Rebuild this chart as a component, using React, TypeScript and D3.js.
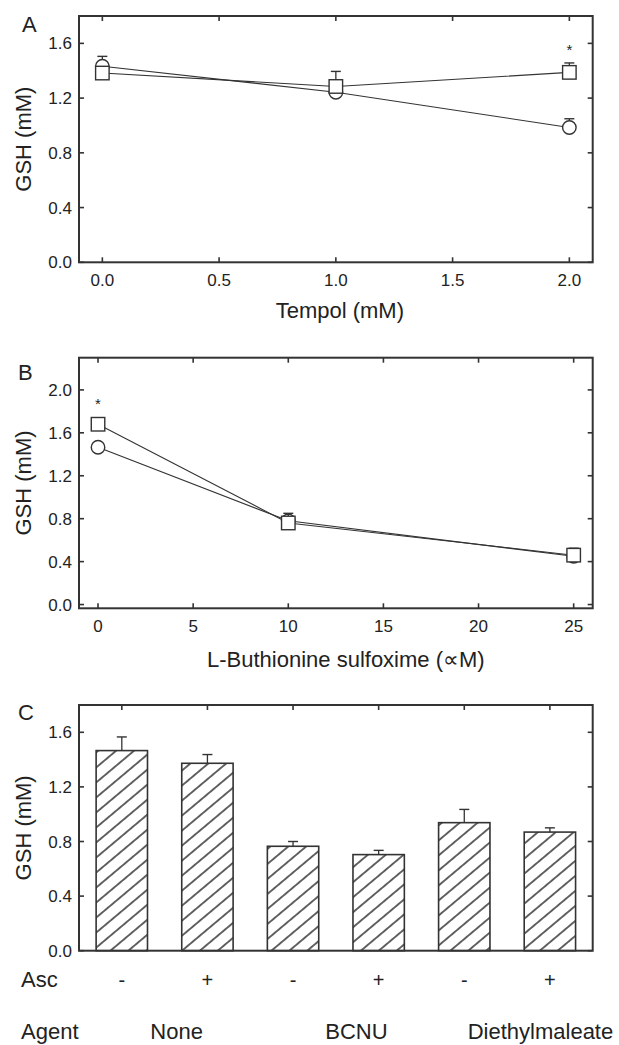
import React from "react";
import * as d3 from "d3";

// ---------- data ----------
const tempolDose = [0, 1, 2];
const tempolCircle = [1.433, 1.243, 0.985];
const tempolCircleErr = [0.072, 0.03, 0.064];
const tempolSquare = [1.383, 1.285, 1.388];
const tempolSquareErr = [0.03, 0.11, 0.069];
const tempolSig = [false, false, true];

const bsoDose = [0, 10, 25];
const bsoCircle = [1.465, 0.78, 0.45];
const bsoCircleErr = [0.02, 0.03, 0.03];
const bsoSquare = [1.68, 0.76, 0.46];
const bsoSquareErr = [0.02, 0.09, 0.065];
const bsoSig = [true, false, false];

const barValues = [1.466, 1.373, 0.765, 0.704, 0.938, 0.869];
const barErr = [0.1, 0.064, 0.035, 0.031, 0.097, 0.031];
const ascLabels = ["-", "+", "-", "+", "-", "+"];
const agentLabels = ["None", "BCNU", "Diethylmaleate"];
const agentAnchor = [1.64, 3.74, 5.89];

const yTicksA = [0, 0.4, 0.8, 1.2, 1.6];
const xTicksA = [0, 0.5, 1.0, 1.5, 2.0];
const yTicksB = [0, 0.4, 0.8, 1.2, 1.6, 2.0];
const xTicksB = [0, 5, 10, 15, 20, 25];
const yTicksC = [0, 0.4, 0.8, 1.2, 1.6];

// ---------- style ----------
const FONT = "'Liberation Sans', Arial, Helvetica, sans-serif";
const INK = "#222";
const LINE = "#333";
const TICK_FS = 17;
const TITLE_FS = 22;
const TICK_LEN = 5;
const LEFT = 79;
const RIGHT = 592.7;

type Lin = d3.ScaleLinear<number, number>;

function Frame({ x, y, xTicks, yTicks, xFmt, yFmt, showXLabels = true, bottomTicks = true }: {
  x: (v: any) => number; y: Lin; xTicks: any[]; yTicks: number[];
  xFmt?: (v: any) => string; yFmt: (v: number) => string; showXLabels?: boolean; bottomTicks?: boolean;
}) {
  const [y0, y1] = y.range();
  const bottom = y0, top = y1;
  return (
    <g>
      {yTicks.map((t, i) => (
        <g key={"y" + i}>
          <line x1={LEFT} x2={LEFT + TICK_LEN} y1={y(t)} y2={y(t)} stroke={LINE} strokeWidth={1.6} />
          <line x1={RIGHT} x2={RIGHT - TICK_LEN} y1={y(t)} y2={y(t)} stroke={LINE} strokeWidth={1.6} />
          <text x={LEFT - 7} y={y(t)} dy="0.36em" textAnchor="end" fontSize={TICK_FS} fill={INK}>{yFmt(t)}</text>
        </g>
      ))}
      {xTicks.map((t, i) => (
        <g key={"x" + i}>
          <line x1={x(t)} x2={x(t)} y1={top} y2={top + TICK_LEN} stroke={LINE} strokeWidth={1.6} />
          {bottomTicks && <line x1={x(t)} x2={x(t)} y1={bottom} y2={bottom - TICK_LEN} stroke={LINE} strokeWidth={1.6} />}
          {showXLabels && xFmt && (
            <text x={x(t)} y={bottom + 24} textAnchor="middle" fontSize={TICK_FS} fill={INK}>{xFmt(t)}</text>
          )}
        </g>
      ))}
      <rect x={LEFT} y={top} width={RIGHT - LEFT} height={bottom - top} fill="none" stroke={LINE} strokeWidth={2} />
    </g>
  );
}

function SeriesPlot({ x, y, xs, circ, circErr, sq, sqErr, sig, size }: {
  x: Lin; y: Lin; xs: number[]; circ: number[]; circErr: number[]; sq: number[]; sqErr: number[]; sig: boolean[]; size: number;
}) {
  const line = d3.line<number>().x((_, i) => x(xs[i])).y((d) => y(d));
  const cap = 5;
  const r = size / 2;
  return (
    <g>
      <path d={line(circ) || ""} fill="none" stroke={LINE} strokeWidth={1.1} />
      <path d={line(sq) || ""} fill="none" stroke={LINE} strokeWidth={1.1} />
      {circ.map((v, i) => (
        <g key={"c" + i}>
          <line x1={x(xs[i])} x2={x(xs[i])} y1={y(v)} y2={y(v + circErr[i])} stroke={LINE} strokeWidth={1.3} />
          <line x1={x(xs[i]) - cap} x2={x(xs[i]) + cap} y1={y(v + circErr[i])} y2={y(v + circErr[i])} stroke={LINE} strokeWidth={1.4} />
          <circle cx={x(xs[i])} cy={y(v)} r={r} fill="#fff" stroke={LINE} strokeWidth={1.4} />
        </g>
      ))}
      {sq.map((v, i) => (
        <g key={"s" + i}>
          <line x1={x(xs[i])} x2={x(xs[i])} y1={y(v)} y2={y(v + sqErr[i])} stroke={LINE} strokeWidth={1.3} />
          <line x1={x(xs[i]) - cap} x2={x(xs[i]) + cap} y1={y(v + sqErr[i])} y2={y(v + sqErr[i])} stroke={LINE} strokeWidth={1.4} />
          <rect x={x(xs[i]) - r} y={y(v) - r} width={size} height={size} fill="#fff" stroke={LINE} strokeWidth={1.4} />
          {sig[i] && (
            <text x={x(xs[i])} y={Math.min(y(v + sqErr[i]), y(v) - r) - 8} textAnchor="middle" fontSize={15} fill={INK}>*</text>
          )}
        </g>
      ))}
    </g>
  );
}

export default function App() {
  // Panel A
  const xA = d3.scaleLinear().domain([-0.1, 2.1]).range([LEFT, RIGHT]);
  const yA = d3.scaleLinear().domain([0, 1.8]).range([262.3, 16]);
  // Panel B
  const xB = d3.scaleLinear().domain([-1, 26]).range([LEFT, RIGHT]);
  const yB = d3.scaleLinear().domain([-0.035, 2.3]).range([608.3, 357.7]);
  // Panel C
  const idx = d3.range(barValues.length);
  const xC = d3.scaleBand<number>().domain(idx).range([LEFT, RIGHT]).paddingInner(0.4).paddingOuter(0.2);
  const yC = d3.scaleLinear().domain([0, 1.8]).range([950.7, 705]);
  const center = (i: number) => (xC(i) as number) + xC.bandwidth() / 2;
  const xIdx = d3.scaleLinear().domain([1, barValues.length]).range([center(0), center(barValues.length - 1)]);

  const f1 = d3.format(".1f");
  const f0 = d3.format("d");
  const midX = (LEFT + RIGHT) / 2;

  return (
    <svg width={619} height={1045} style={{ position: "absolute", left: 0, top: 0, background: "#fff" }}
      fontFamily={FONT}>
      <defs>
        <pattern id="hatch" patternUnits="userSpaceOnUse" width={11.5} height={11.5} patternTransform="rotate(50)">
          <rect width={11.5} height={11.5} fill="#fff" />
          <line x1={5.75} y1={-1} x2={5.75} y2={12.5} stroke="#222" strokeWidth={1.4} />
        </pattern>
      </defs>
      <rect width={619} height={1045} fill="#fff" />

      {/* Panel A */}
      <text x={22} y={32} fontSize={TITLE_FS} fill={INK}>A</text>
      <Frame x={xA} y={yA} xTicks={xTicksA} yTicks={yTicksA} xFmt={f1} yFmt={f1} />
      <SeriesPlot x={xA} y={yA} xs={tempolDose} circ={tempolCircle} circErr={tempolCircleErr}
        sq={tempolSquare} sqErr={tempolSquareErr} sig={tempolSig} size={13.5} />
      <text x={midX + 4} y={318} textAnchor="middle" fontSize={TITLE_FS} fill={INK}>Tempol (mM)</text>
      <text transform={`translate(31,${(16 + 262.3) / 2}) rotate(-90)`} textAnchor="middle" fontSize={TITLE_FS} fill={INK}>GSH (mM)</text>

      {/* Panel B */}
      <text x={18} y={380} fontSize={TITLE_FS} fill={INK}>B</text>
      <Frame x={xB} y={yB} xTicks={xTicksB} yTicks={yTicksB} xFmt={f0} yFmt={f1} />
      <SeriesPlot x={xB} y={yB} xs={bsoDose} circ={bsoCircle} circErr={bsoCircleErr}
        sq={bsoSquare} sqErr={bsoSquareErr} sig={bsoSig} size={13.5} />
      <text x={midX + 10} y={667} textAnchor="middle" fontSize={TITLE_FS} fill={INK}>L-Buthionine sulfoxime (∝M)</text>
      <text transform={`translate(31,${(357.7 + 608.3) / 2}) rotate(-90)`} textAnchor="middle" fontSize={TITLE_FS} fill={INK}>GSH (mM)</text>

      {/* Panel C */}
      <text x={18} y={720} fontSize={TITLE_FS} fill={INK}>C</text>
      {idx.map((i) => {
        const cx = center(i);
        const v = barValues[i];
        const e = barErr[i];
        return (
          <g key={"bar" + i}>
            <line x1={cx} x2={cx} y1={yC(v)} y2={yC(v + e)} stroke={LINE} strokeWidth={1.3} />
            <line x1={cx - 5} x2={cx + 5} y1={yC(v + e)} y2={yC(v + e)} stroke={LINE} strokeWidth={1.4} />
            <rect x={xC(i)} y={yC(v)} width={xC.bandwidth()} height={yC(0) - yC(v)} fill="url(#hatch)" stroke={LINE} strokeWidth={1.6} />
            <text x={cx} y={987} textAnchor="middle" fontSize={20} fill={INK}>{ascLabels[i]}</text>
          </g>
        );
      })}
      <Frame x={(i: number) => center(i)} y={yC} xTicks={idx} yTicks={yTicksC} yFmt={f1} showXLabels={false} bottomTicks={false} />
      <text transform={`translate(31,${(705 + 950.7) / 2}) rotate(-90)`} textAnchor="middle" fontSize={TITLE_FS} fill={INK}>GSH (mM)</text>
      <text x={21} y={987} fontSize={TITLE_FS} fill={INK}>Asc</text>
      <text x={21} y={1039} fontSize={TITLE_FS} fill={INK}>Agent</text>
      {agentLabels.map((a, i) => (
        <text key={a} x={xIdx(agentAnchor[i])} y={1039} textAnchor="middle" fontSize={TITLE_FS} fill={INK}>{a}</text>
      ))}
    </svg>
  );
}
